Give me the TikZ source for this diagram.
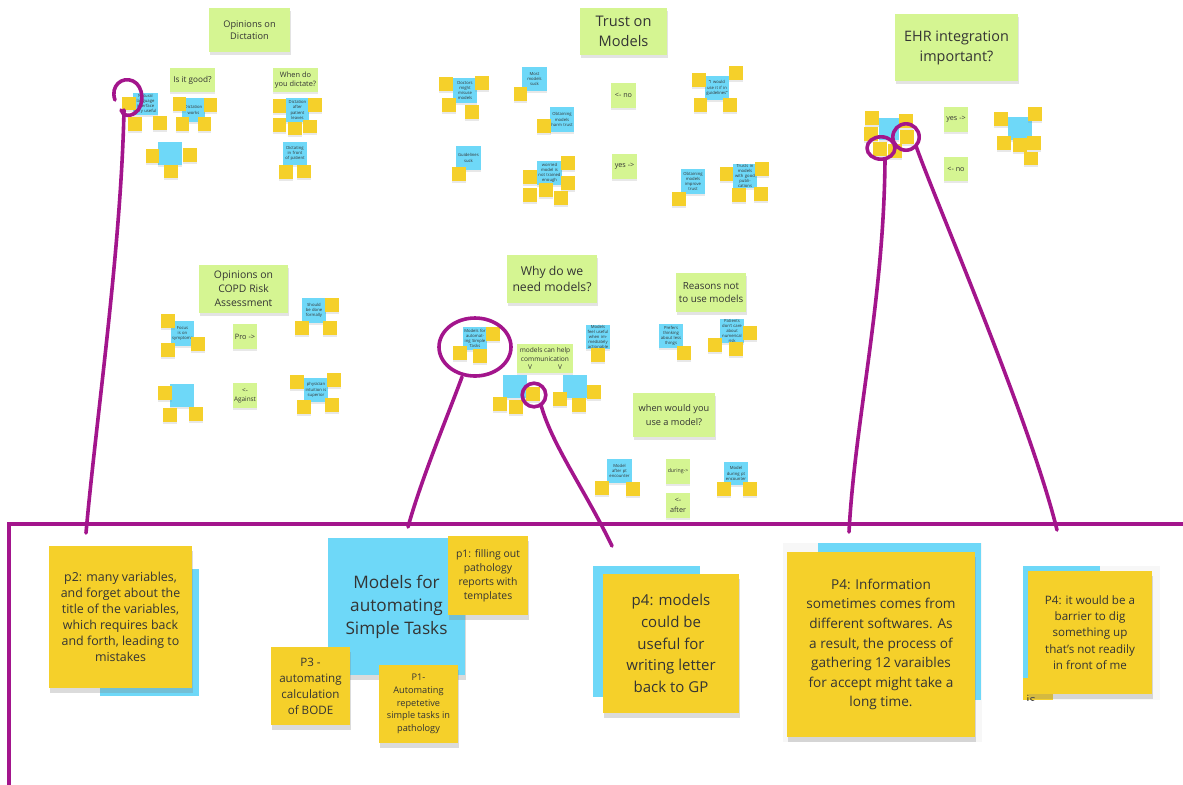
\documentclass[tikz,border=0pt]{standalone}
\usepackage{fontspec}
\setmainfont{Open Sans}
\usetikzlibrary{shadows}
\definecolor{gnc}{RGB}{213,245,146}
\definecolor{bnc}{RGB}{110,216,248}
\definecolor{ync}{RGB}{245,208,42}
\definecolor{penc}{RGB}{163,21,140}
\definecolor{txc}{RGB}{52,52,52}
\newcounter{nid}
\newcommand\fs[2]{\fontsize{#1}{#2}\selectfont}
\newcommand\stk[7]{%
  \pgfmathsetmacro\stkw{(#5-#3)*0.5}%
  \pgfmathsetmacro\stkh{(#6-#4)*0.5}%
  \pgfmathsetmacro\stkx{(#3+#5)/2}%
  \pgfmathsetmacro\stky{(#4+#6)/2}%
  \node[#1, minimum width=\stkw pt, minimum height=\stkh pt] (#2) at (\stkx,\stky) {#7};}
\newcommand\ynt[4]{\stepcounter{nid}\stk{ynote}{y\arabic{nid}}{#1}{#2}{#3}{#4}{}}
\newcommand\bnt[5]{\stepcounter{nid}\pgfmathsetmacro\mytw{(#3-#1)*0.5-0.8}%
  \stk{bnote, text width=\mytw pt, font=\fs{2.1}{2.6}}{b\arabic{nid}}{#1}{#2}{#3}{#4}{\tolerance=9999 \hyphenpenalty=10000 #5}}
\tikzset{
  note/.style={rectangle, inner sep=0pt, outer sep=0pt, align=center, text=txc},
  sh/.style={drop shadow={shadow xshift=0.2pt, shadow yshift=-0.8pt, opacity=0.18}},
  gsh/.style={drop shadow={shadow xshift=0.3pt, shadow yshift=-1.6pt, opacity=0.22}},
  bigsh/.style={drop shadow={shadow xshift=0.6pt, shadow yshift=-2.6pt, opacity=0.28}},
  gnote/.style={note, fill=gnc, sh},
  bnote/.style={note, fill=bnc, sh},
  ynote/.style={note, fill=ync, sh},
  gbig/.style={note, fill=gnc, gsh},
  ybig/.style={note, fill=ync, bigsh},
  bbig/.style={note, fill=bnc, bigsh},
  bflat/.style={note, fill=bnc},
  pen/.style={draw=penc, line width=1.8pt, line cap=round, line join=round},
}
\begin{document}
\begin{tikzpicture}[x=0.5pt, y=-0.5pt]
\useasboundingbox (0,0) rectangle (1183,784);
\fill[white] (0,0) rectangle (1183,784);

% ---------- group headers ----------
\stk{gbig, font=\fs{4.6}{6}}{gDict}{209}{8}{290}{52}{Opinions on\\Dictation}
\stk{gbig, font=\fs{7.3}{10}}{gTrust}{580}{8}{667}{55}{Trust on\\Models}
\stk{gbig, font=\fs{7.2}{10}}{gEHR}{895}{14}{1018}{81}{EHR integration\\important?}
\stk{gbig, font=\fs{5.2}{6.9}}{gCOPD}{199}{265}{288}{313}{Opinions on\\COPD Risk\\Assessment}
\stk{gbig, font=\fs{6.1}{8}}{gWhy}{507}{255}{597}{303}{Why do we\\need models?}
\stk{gbig, font=\fs{4.9}{6.4}}{gNot}{676}{273}{746}{312}{Reasons not\\to use models}
\stk{gbig, font=\fs{4.6}{6.6}}{gWhen}{633}{393}{715}{437}{when would you\\use a model?}

% ---------- small green labels ----------
\stk{gnote, font=\fs{4.1}{5}}{gGood}{170}{68}{215}{92}{Is it good?}
\stk{gnote, font=\fs{3.7}{4.6}}{gDo}{273}{68}{318}{92}{When do\\you dictate?}
\stk{gnote, font=\fs{3.6}{4.4}}{gTno}{611}{83}{636}{108}{<- no}
\stk{gnote, font=\fs{3.6}{4.4}}{gTyes}{612}{154}{637}{179}{yes ->}
\stk{gnote, font=\fs{3.6}{4.4}}{gEyes}{944}{107}{968}{132}{yes ->}
\stk{gnote, font=\fs{3.6}{4.4}}{gEno}{944}{157}{968}{181}{<- no}
\stk{gnote, font=\fs{3.7}{4.5}}{gPro}{233}{324}{257}{349}{Pro ->}
\stk{gnote, font=\fs{3.2}{4.6}}{gAg}{233}{383}{257}{408}{<-\\Against}
\stk{gnote, font=\fs{3.3}{4.3}}{gComm}{517}{344}{573}{373}{models can help\\communication\\V\hspace{13pt}V}
\stk{gnote, font=\fs{2.6}{3.2}}{gDur}{666}{459}{690}{484}{during->}
\stk{gnote, font=\fs{3.6}{5.2}}{gAft}{666}{493}{690}{518}{<-\\after}

% ---------- small blue notes ----------
\bnt{133}{93}{158}{115}{Natural language interface very useful}
\bnt{182}{98}{205}{122}{Dictation works}
\bnt{158}{142}{182}{165}{}
\bnt{286}{98}{309}{122}{Dictation after patient leaves}
\bnt{283}{142}{307}{165}{Dictating in front of patient}
\bnt{453}{78}{477}{103}{Doctors might misuse models}
\bnt{522}{67}{547}{91}{Most models suck}
\bnt{550}{107}{574}{132}{Obtaining models harm trust}
\bnt{705}{76}{729}{100}{"I would use it if in guidelines"}
\bnt{456}{146}{481}{170}{Guidelines suck}
\bnt{537}{161}{562}{185}{worried model is not trained enough}
\bnt{681}{169}{705}{194}{Obtaining models improve trust}
\bnt{733}{164}{757}{188}{Trusts in models with good publications}
\bnt{879}{118}{899}{140}{}
\bnt{1008}{117}{1032}{140}{}
\bnt{171}{321}{194}{346}{Focus is on symptoms}
\bnt{302}{298}{326}{323}{Should be done formally}
\bnt{170}{384}{194}{407}{}
\bnt{304}{378}{328}{402}{physician intuition is superior}
\bnt{463}{327}{487}{350}{Models for automating Simple Tasks}
\bnt{503}{375}{527}{398}{}
\bnt{563}{375}{587}{398}{}
\bnt{586}{325}{610}{349}{Models feel useful when immediately actionable}
\bnt{659}{324}{683}{348}{Prefers thinking about less things}
\bnt{720}{319}{744}{343}{Patients don't care about numerical risk}
\bnt{607}{459}{632}{483}{Model after pt encounter}
\bnt{724}{462}{748}{485}{Model during pt encounter}

% ---------- small yellow notes ----------
% dictation
\ynt{122}{97}{136}{110}\ynt{128}{117}{142}{131}\ynt{153}{116}{167}{130}
\ynt{173}{97}{186}{111}\ynt{204}{98}{217}{112}\ynt{176}{117}{189}{131}\ynt{198}{117}{211}{131}
\ynt{146}{149}{159}{163}\ynt{183}{148}{197}{162}\ynt{164}{165}{178}{178}
\ynt{273}{99}{286}{113}\ynt{308}{98}{322}{112}\ynt{273}{118}{286}{132}\ynt{288}{122}{302}{135}\ynt{303}{120}{317}{133}
\ynt{279}{165}{293}{179}\ynt{297}{165}{311}{178}
% trust
\ynt{439}{77}{453}{91}\ynt{475}{76}{489}{90}\ynt{442}{98}{456}{112}\ynt{465}{105}{479}{119}
\ynt{514}{87}{527}{101}\ynt{537}{119}{551}{133}
\ynt{692}{73}{706}{87}\ynt{729}{66}{743}{80}\ynt{694}{98}{707}{112}\ynt{723}{98}{737}{112}
\ynt{452}{167}{466}{181}
\ynt{523}{170}{537}{184}\ynt{561}{156}{575}{170}\ynt{561}{176}{575}{190}\ynt{523}{188}{537}{202}\ynt{539}{183}{553}{197}\ynt{554}{191}{568}{205}
\ynt{672}{192}{686}{206}
\ynt{720}{167}{733}{181}\ynt{755}{162}{769}{176}\ynt{732}{188}{746}{202}\ynt{754}{187}{768}{201}
% EHR
\ynt{865}{111}{879}{125}\ynt{899}{114}{913}{128}\ynt{864}{127}{878}{141}\ynt{900}{130}{914}{144}\ynt{873}{142}{887}{156}\ynt{888}{144}{902}{158}
\ynt{994}{112}{1008}{126}\ynt{1028}{107}{1042}{121}\ynt{997}{136}{1011}{150}\ynt{1013}{138}{1027}{152}\ynt{1027}{136}{1041}{150}\ynt{1024}{152}{1038}{165}
% COPD
\ynt{161}{314}{175}{328}\ynt{161}{343}{175}{357}\ynt{191}{337}{205}{351}
\ynt{325}{298}{339}{312}\ynt{295}{321}{309}{335}\ynt{323}{321}{337}{335}
\ynt{158}{386}{172}{400}\ynt{163}{408}{177}{422}\ynt{189}{407}{203}{421}
\ynt{290}{375}{304}{389}\ynt{327}{373}{341}{387}\ynt{297}{400}{311}{414}\ynt{325}{398}{339}{412}
% why models / reasons not
\ynt{486}{327}{500}{341}\ynt{453}{346}{467}{360}\ynt{473}{349}{487}{363}
\ynt{493}{397}{507}{411}\ynt{509}{400}{523}{414}\ynt{526}{387}{540}{401}
\ynt{553}{392}{567}{406}\ynt{572}{398}{586}{412}\ynt{587}{385}{601}{399}
\ynt{591}{348}{605}{362}\ynt{677}{346}{691}{360}
\ynt{708}{338}{722}{352}\ynt{743}{326}{757}{340}\ynt{729}{342}{743}{356}
% when
\ynt{595}{481}{609}{495}\ynt{626}{482}{640}{496}\ynt{717}{482}{731}{496}\ynt{743}{482}{757}{496}

% ---------- bottom area ----------
\stk{bflat}{p2back}{100}{569}{199}{696}{}
\stk{ybig, font=\fs{6.2}{8}}{p2}{49}{546}{192}{688}{p2: many variables,\\and forget about the\\title of the variables,\\which requires back\\and forth, leading to\\mistakes}

\stk{bbig, font=\fs{8.6}{11.5}}{auto}{328}{538}{465}{675}{Models for\\automating\\Simple Tasks}
\stk{ybig, font=\fs{5.2}{7}}{p1fill}{448}{536}{528}{615}{p1: filling out\\pathology\\reports with\\templates}
\stk{ybig, font=\fs{5.8}{8}}{p3bode}{271}{647}{350}{725}{P3 -\\automating\\calculation\\of BODE}
\stk{ybig, font=\fs{4.6}{6.3}}{p1auto}{379}{665}{458}{743}{P1-\\Automating\\repetetive\\simple tasks in\\pathology}

\stk{bflat}{p4back}{593}{566}{700}{697}{}
\stk{ybig, font=\fs{7.5}{10.8}}{p4gp}{603}{574}{739}{713}{p4: models\\could be\\useful for\\writing letter\\back to GP}

\fill[black!3] (783,543) rectangle (982,742);
\stk{bflat}{p4iback}{818}{543}{981}{700}{}
\stk{ybig, font=\fs{6.8}{9.8}}{p4info}{787}{552}{975}{737}{P4: Information\\sometimes comes from\\different softwares. As\\a result, the process of\\gathering 12 varaibles\\for accept might take a\\long time.}

\fill[black!3] (1023,566) rectangle (1160,700);
\stk{bflat}{p4bback}{1023}{566}{1100}{678}{}
\stk{note, fill=ync}{isnote}{1023}{678}{1053}{700}{}
\begin{scope}
  \clip (1023,678) rectangle (1053,700);
  \node[note, font=\fs{6.4}{7}] (isword) at (1031,700) {is};
\end{scope}
\stk{ybig, font=\fs{5.8}{8.2}}{p4bar}{1028}{571}{1152}{694}{P4: it would be a\\barrier to dig\\something up\\that's not readily\\in front of me}

% ---------- frame ----------
\draw[pen, line width=2pt, line cap=butt, line join=miter] (9,790) -- (9,524) -- (1190,524);

% ---------- pen strokes ----------
\draw[pen] (115,100) .. controls (110,86) and (122,76) .. (133,81)
           .. controls (144,86) and (145,106) .. (135,113)
           .. controls (129,117) and (123,116) .. (121,110);
\draw[pen] (124,110) .. controls (121,250) and (96,420) .. (86,533);

\draw[pen] (475,347) ellipse [x radius=18pt, y radius=14.5pt];
\draw[pen] (462,377) .. controls (446,420) and (421,480) .. (408,527);

\draw[pen] (534,395) circle [radius=5.9pt];
\draw[pen] (541,405) .. controls (552,445) and (585,490) .. (612,546);

\draw[pen] (881,148) ellipse [x radius=7pt, y radius=5.6pt];
\draw[pen] (906,137) ellipse [x radius=6.6pt, y radius=6.6pt];
\draw[pen] (885,159) .. controls (884,300) and (855,420) .. (849,532);
\draw[pen] (916,146) .. controls (935,200) and (1030,420) .. (1057,530);
\end{tikzpicture}
\end{document}
